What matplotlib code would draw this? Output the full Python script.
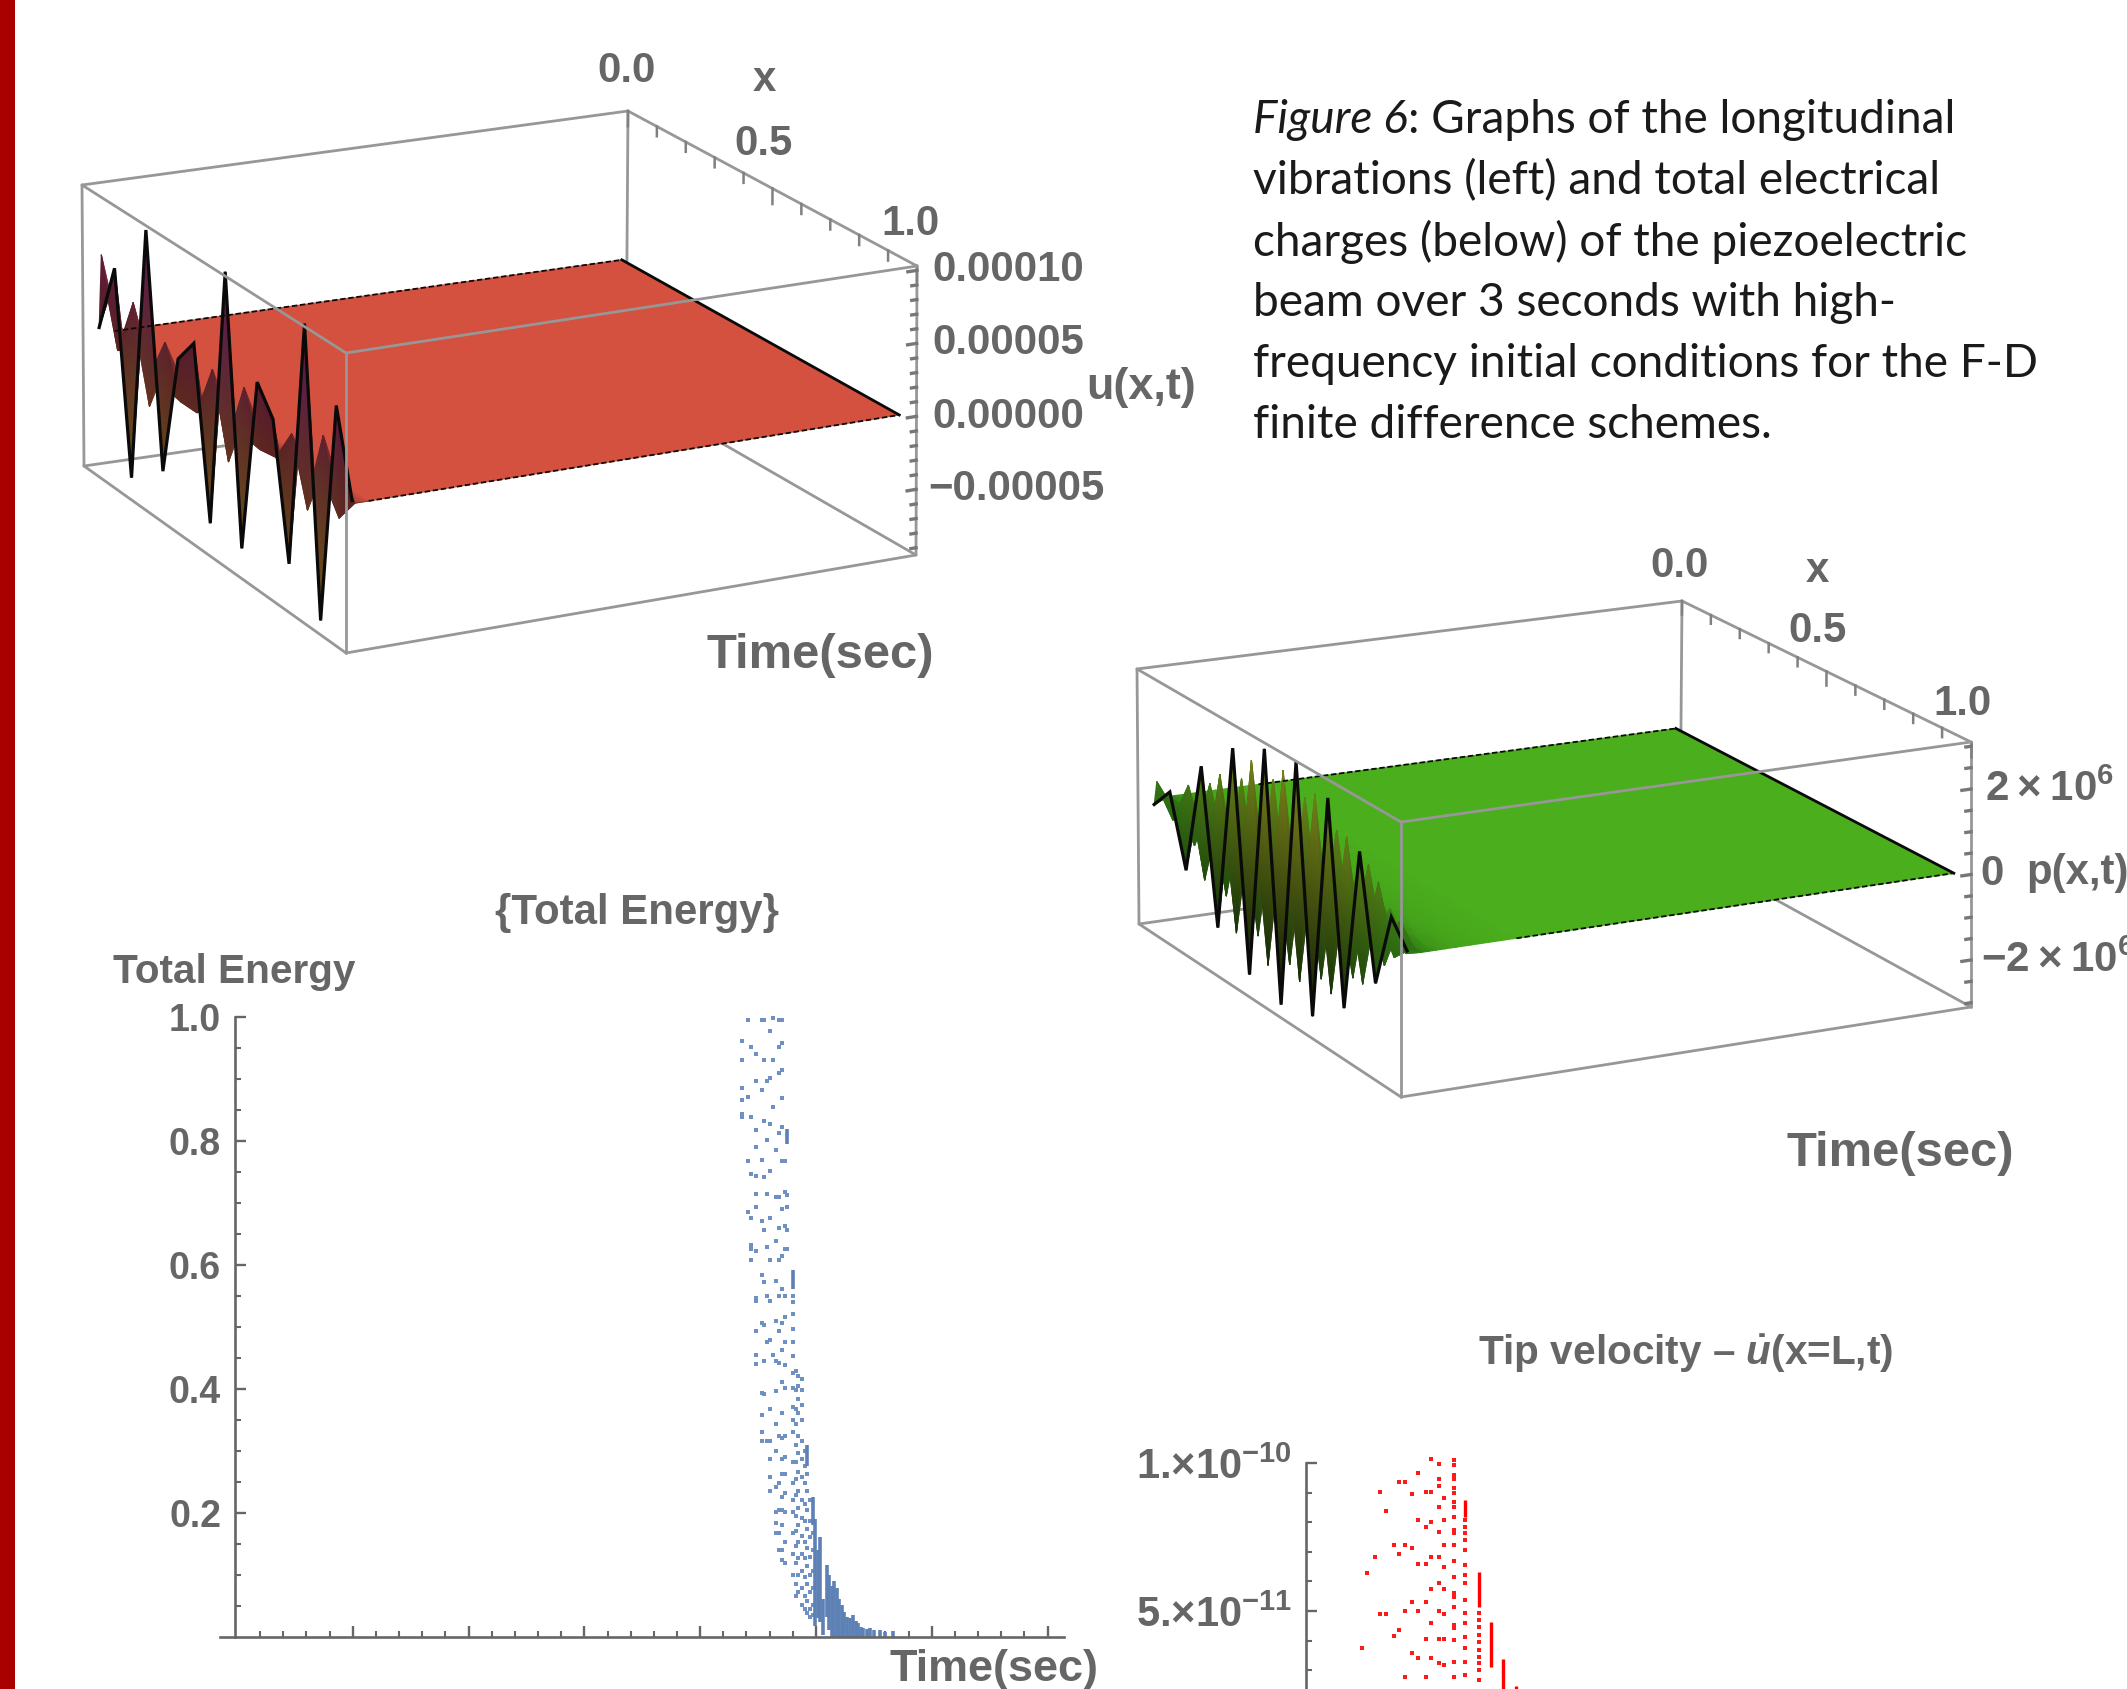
import numpy as np
import matplotlib as mpl
mpl.use('Agg')
import matplotlib.pyplot as plt
from matplotlib.artist import Artist
from matplotlib.patches import Rectangle

W, H = 2127, 1689

# u(x,t) panel, rows of the mesh in units of 1e-5
u_times = [0.0, 0.015, 0.09, 3.0]
u_row0 = [0.4, 5.3, -8.6, 9.4, -6.6, 1.9, 3.7, -7.9, 10.0, -8.1, 3.9, 2.1, -6.9, 9.9, -9.2, 5.8, 0.2]
u_row1 = [5.5, -0.5, 3.6, -2.9, 2.3, -1.1, -1.1, 2.6, -3.0, 2.8, -0.7, -0.5, 1.8, -2.6, 3.1, -1.7, 0.0]

# p(x,t) panel, rows of the mesh in units of 1e6
p_times = [0.0, 0.016, 0.049, 0.081, 0.12, 0.16, 0.21, 0.27, 0.35, 0.45, 0.6, 3.0]
p_row0 = [-0.15, 0.39, -1.26, 1.47, -2.15, 2.35, -2.78, 2.77, -3.0, 2.91, -2.79, 2.49, -2.13, 1.69, -1.1, 0.63, 0.08]
p_row1 = [0.4, -0.3, 0.78, -1.27, 1.5, -2.05, 2.28, -2.33, 2.48, -2.24, 2.36, -2.05, 1.8, -1.36, 1.2, -0.3, 0.1]
p_row2 = [0.1, 0.1, -0.7, 1.03, -1.43, 1.6, -1.9, 2.02, -2.1, 2.05, -1.96, 1.72, -1.47, 1.36, -0.73, 0.5, 0.05]
p_row3 = [0, 0, 0.25, -0.4, 0.65, -0.8, 1.05, -1.2, 1.3, -1.35, 1.3, -1.2, 1.05, -0.8, 0.55, -0.25, 0]
p_row4 = [0, 0, -0.12, 0.2, -0.3, 0.42, -0.6, 0.66, -0.72, 0.78, -0.78, 0.72, -0.6, 0.48, -0.3, 0.12, 0]
p_row5 = [0, 0, 0.05, -0.1, 0.14, -0.18, 0.27, -0.36, 0.4, -0.45, 0.45, -0.4, 0.36, -0.27, 0.18, -0.09, 0]
p_row6 = [0, 0, 0, 0.04, -0.08, 0.12, -0.16, 0.2, -0.24, 0.28, -0.28, 0.28, -0.24, 0.2, -0.12, 0.04, 0]
p_row7 = [0, 0, 0, 0, 0.03, -0.06, 0.09, -0.12, 0.12, -0.15, 0.15, -0.15, 0.12, -0.09, 0.03, 0, 0]
p_row8 = [0, 0, 0, 0, 0, 0.02, -0.03, 0.05, -0.05, 0.07, -0.07, 0.07, -0.05, 0.05, -0.02, 0, 0]
p_row9 = [0, 0, 0, 0, 0, 0, 0, -0.02, 0.02, -0.02, 0.02, -0.02, 0.02, -0.02, 0, 0, 0]

# total energy, one list of values per time column
energy_t = [2.180, 2.205, 2.218, 2.241, 2.267, 2.277, 2.290, 2.303, 2.316, 2.327, 2.339, 2.352, 2.366,
            2.376, 2.399, 2.414, 2.424, 2.438, 2.451, 2.463, 2.474, 2.486]
energy_vals = [
    [.962, .931, .886, .866, .844, .839],
    [.995, .871, .768, .686],
    [.952, .838, .747, .676, .632, .625, .607],
    [.941, .897, .817, .790, .743, .715, .693, .622, .546, .542, .493, .455, .440],
    [.995, .882, .769, .671, .584, .506, .393, .357, .330, .315],
    [.995, .931, .832, .742, .656, .573, .503, .445, .391],
    [.897, .802, .715, .628, .550, .476, .315],
    [.978, .901, .827, .752, .676, .607, .542, .479, .367, .316, .286, .258, .235],
    [.998, .931, .854, .455],
    [.785, .710, .639, .574, .510, .445, .396, .343, .299, .241, .201, .184, .167],
    [.995, .951, .910, .812, .710, .659, .608, .550, .493, .442, .323, .248, .204, .167, .140],
    [.995, .958, .914, .869, .822, .768, .690, .615, .561, .506, .462, .411, .360, .320, .286, .262, .225,
     .204, .180, .140, .123],
    [.768, .717, .662, .625, .550, .516, .476, .438, .401, .323, .289, .262, .231, .201, .153, .119],
    [.713, .693, .656, .625],
    [.550, .540, .520, .496, .476, .452, .425, .401, .370, .350, .330, .282, .248, .221, .201, .167, .133, .099],
    [.428, .398, .367, .343, .309, .282, .255, .228, .194, .170, .146, .119, .085, .065],
    [.421, .404, .384, .360, .323, .296, .265, .235, .208, .180, .153, .126, .099, .072],
    [.415, .398, .374, .350, .316, .286, .258, .221, .191, .163, .133, .106, .079, .051],
    [.299, .275, .248, .214, .187, .153, .126, .096, .065, .045],
    [.262, .235, .204, .174, .143, .113, .085, .058, .038],
    [.221, .187, .160, .129, .099, .072, .045, .031],
    [.167, .140, .106, .079, .051, .034],
]
# columns where the points merge into a solid stroke
energy_bar_t = [2.376, 2.399, 2.463, 2.486, 2.496, 2.507, 2.517, 2.530, 2.546, 2.557, 2.568, 2.578, 2.589,
                2.600, 2.611, 2.622, 2.632, 2.645, 2.661, 2.672, 2.683, 2.695, 2.704, 2.720, 2.733, 2.750,
                2.776, 2.800, 2.834]
energy_bar_lo = [.795, .561, .275, .180, .017, .030, .024, .002, .031, .010, 0, 0, 0,
                 0, 0, 0, 0, 0, 0, 0, 0, 0, 0, 0, 0, 0,
                 0, 0, 0]
energy_bar_hi = [.819, .591, .309, .225, .190, .140, .160, .060, .116, .100, .082, .090, .079,
                 .060, .051, .040, .031, .030, .034, .025, .021, .015, .014, .012, .014, .010,
                 .011, .008, .009]

# tip velocity, in units of 1e-11
tip_t = [.242, .265, .299, .321, .344, .381, .401, .426, .457, .483, .517, .539, .576, .596, .638, .686, .746]
tip_vals = [
    [3.74],
    [6.27],
    [6.81],
    [9.03, 4.89],
    [8.39, 4.89],
    [7.23, 4.15],
    [9.35, 6.91, 4.36],
    [9.35, 7.23, 4.99, 2.76],
    [8.95, 7.12, 5.31, 3.57],
    [9.67, 8.07, 6.58, 4.99, 3.40],
    [9.03, 7.83, 6.58, 5.31, 4.04, 2.76],
    [10.12, 9.03, 8.02, 6.81, 5.73, 4.58, 3.40],
    [9.97, 9.45, 9.23, 8.52, 7.68, 6.81, 5.93, 4.99, 4.04, 3.23],
    [8.81, 8.07, 7.23, 6.47, 5.73, 4.89, 4.04, 3.17],
    [10.1, 9.93, 9.6, 9.45, 9.14, 9.0, 8.69, 8.52, 8.19, 7.74, 7.62, 7.23, 6.70, 6.16, 5.6, 5.48, 5.15,
     4.53, 4.41, 4.02, 3.29, 2.76],
    [8.07, 7.85, 7.62, 7.4, 7.06, 6.55, 6.22, 5.93, 5.37, 4.92, 4.58, 4.13, 3.74, 3.29, 2.84],
    [4.92, 4.69, 4.47, 4.19, 3.96, 3.68, 3.46, 3.23, 3.0, 2.67],
]
tip_bar_t = [.686, .746, .799, .850, .907]
tip_bar_lo = [8.18, 5.15, 3.12, 2.3, 2.3]
tip_bar_hi = [8.75, 6.33, 4.64, 3.38, 2.45]

caption_lines = ['vibrations (left) and total electrical',
                 'charges (below) of the piezoelectric',
                 'beam over 3 seconds with high-',
                 'frequency initial conditions for the F-D',
                 'finite difference schemes.']

GREY = '#979797'
TEXT = '#666666'

plt.rcParams['font.family'] = ['Liberation Sans', 'DejaVu Sans']
plt.rcParams['mathtext.fontset'] = 'custom'
plt.rcParams['mathtext.rm'] = 'Liberation Sans'
plt.rcParams['mathtext.it'] = 'Liberation Sans:italic:bold'
plt.rcParams['mathtext.bf'] = 'Liberation Sans:bold'
plt.rcParams['mathtext.default'] = 'regular'


class GouraudMesh(Artist):
    # triangles with one colour per corner, drawn in the order given
    def __init__(self, tris, cols):
        super().__init__()
        self.tris = np.array(tris, dtype=float)
        self.cols = np.array(cols, dtype=float)

    def draw(self, renderer):
        gc = renderer.new_gc()
        renderer.draw_gouraud_triangles(gc, self.tris, self.cols, self.axes.transData)
        gc.restore()


def hex_rgb(c):
    return np.array(mpl.colors.to_rgb(c))


def draw_box3d(ax, corners, zlim, times, rows, weights, flat, low, mid, high, z_major, z_minor, zscale):
    # corners: [left, front, back, right], each (x, y bottom, y top) in pixels
    box = np.zeros((2, 2, 2, 2))
    for i, (a, b) in enumerate([(0, 0), (0, 1), (1, 0), (1, 1)]):
        x_bot, y_bot, x_top, y_top = corners[i]
        box[a, b, 0] = [x_bot, y_bot]
        box[a, b, 1] = [x_top, y_top]

    def corner(a, b, c):
        w = 0
        for i in (0, 1):
            for j in (0, 1):
                for k in (0, 1):
                    w = w + (a if i else 1 - a) * (b if j else 1 - b) * (c if k else 1 - c) * box[i, j, k]
        return w

    def proj(t, x, z):
        a = 0.02 + 0.96 * t / 3.0
        b = 0.02 + 0.96 * x
        c = (z - zlim[0]) / (zlim[1] - zlim[0])
        return corner(a, b, c)

    def edge(p, q, z):
        a, b = zip(p, q)
        ax.plot(a, b, color=GREY, lw=2.0, solid_capstyle='round', zorder=z)

    # edges behind the surface
    edge(corner(0, 0, 1), corner(1, 0, 1), 1)
    edge(corner(1, 0, 1), corner(1, 1, 1), 1)
    edge(corner(0, 0, 0), corner(0, 0, 1), 1)
    edge(corner(1, 0, 0), corner(1, 0, 1), 1)
    edge(corner(0, 0, 0), corner(1, 0, 0), 1)
    edge(corner(1, 0, 0), corner(1, 1, 0), 1)
    edge(corner(1, 1, 0), corner(1, 1, 1), 1)

    # x ticks hang from the back top edge
    for i in range(11):
        tip = corner(1, i / 10, 1)
        end = corner(1, i / 10, 0.945 if i % 5 == 0 else 0.965)
        ax.plot([tip[0], end[0]], [tip[1], end[1]], color='#808080', lw=1.8, zorder=1)

    # z ticks on the right vertical edge
    for z in z_minor:
        c = (z - zlim[0]) / (zlim[1] - zlim[0])
        size = 0.016 if z in z_major else 0.009
        p = corner(1, 1, c)
        q = corner(1 - size, 1, c)
        ax.plot([p[0], q[0]], [p[1], q[1]], color='#777777', lw=2.4, zorder=1)

    xs = np.linspace(0, 1, len(rows[0]))
    umax = max(abs(np.array(rows[0])))
    flat_c, low_c, mid_c, high_c = hex_rgb(flat), hex_rgb(low), hex_rgb(mid), hex_rgb(high)
    verts, cols = [], []
    for r in range(len(rows)):
        row_v, row_c = [], []
        for i in range(len(xs)):
            u = rows[r][i]
            row_v.append(proj(times[r], xs[i], u * zscale))
            n = u / umax
            c = mid_c + (high_c - mid_c) * n if n > 0 else mid_c + (low_c - mid_c) * (-n)
            c = flat_c + (c - flat_c) * weights[r]
            row_c.append(list(c) + [1.0])
        verts.append(row_v)
        cols.append(row_c)

    # far rows first so the t=0 edge ends up on top, each cell split at its
    # centre so that peaks and troughs both stay sharp
    tris, tcols = [], []
    for r in range(len(rows) - 2, -1, -1):
        for i in range(len(xs) - 1):
            a, b = verts[r][i], verts[r][i + 1]
            c, d = verts[r + 1][i], verts[r + 1][i + 1]
            ca, cb = np.array(cols[r][i]), np.array(cols[r][i + 1])
            cc, cd = np.array(cols[r + 1][i]), np.array(cols[r + 1][i + 1])
            m = (a + b + c + d) / 4
            cm = (ca + cb + cc + cd) / 4
            tris.extend([[c, d, m], [a, c, m], [b, d, m], [a, b, m]])
            tcols.extend([[cc, cd, cm], [ca, cc, cm], [cb, cd, cm], [ca, cb, cm]])
    mesh = GouraudMesh(tris, tcols)
    mesh.set_zorder(2)
    ax.add_artist(mesh)

    # black boundary of the surface
    r0 = np.array(verts[0])
    ax.plot(r0[:, 0], r0[:, 1], color='#0a0a0a', lw=2.3, zorder=3, solid_joinstyle='miter')
    last = np.array(verts[-1])
    ax.plot(last[:, 0], last[:, 1], color='#0a0a0a', lw=2.0, zorder=3)
    for j in (0, -1):
        side = np.array([verts[r][j] for r in range(len(rows))])[-2:]
        ax.plot(side[:, 0], side[:, 1], color='#0a0a0a', lw=1.3, ls=(0, (3, 1.5)), zorder=3)

    # edges in front of the surface
    edge(corner(0, 0, 1), corner(0, 1, 1), 4)
    edge(corner(0, 1, 1), corner(1, 1, 1), 4)
    edge(corner(0, 1, 0), corner(0, 1, 1), 4)
    edge(corner(0, 0, 0), corner(0, 1, 0), 4)
    edge(corner(0, 1, 0), corner(1, 1, 0), 4)


def px_text(ax, x, y, s, size, ha='center', weight='bold', color=TEXT, **kw):
    return ax.text(x, y + 3, s, fontsize=size * 0.72, ha=ha, va='center', fontweight=weight, color=color,
                   zorder=6, **kw)


fig = plt.figure(figsize=(W / 100, H / 100), dpi=100, facecolor='white')

ov = fig.add_axes([0, 0, 1, 1])
ov.set_xlim(0, W)
ov.set_ylim(H, 0)
ov.axis('off')

ov.add_patch(Rectangle((0, 0), 15, H, color='#a90000', lw=0))

# longitudinal vibrations
u_zlim = [-9.5e-5, 10.3e-5]
u_major = [-5e-5, 0, 5e-5, 10e-5]
u_minor = [k * 1e-5 for k in range(-9, 11)]
u_minor = [round(k, 10) for k in u_minor]
u_major = [round(k, 10) for k in u_major]
draw_box3d(ov,
           [(84, 466, 82, 185), (346, 653, 346, 353), (626, 388, 628, 111), (916, 555, 917, 266)],
           u_zlim, u_times, [u_row0, u_row1, [0] * 17, [0] * 17], [1, 0.95, 0, 0],
           '#d4503f', '#6b6010', '#56201f', '#5a1456', u_major, u_minor, 1e-5)
px_text(ov, 627, 68, '0.0', 42)
px_text(ov, 764, 77, 'x', 42)
px_text(ov, 764, 141, '0.5', 42)
px_text(ov, 910, 221, '1.0', 42)
px_text(ov, 932, 267, '0.00010', 42, ha='left')
px_text(ov, 932, 340, '0.00005', 42, ha='left')
px_text(ov, 932, 414, '0.00000', 42, ha='left')
px_text(ov, 928, 486, '\u22120.00005', 42, ha='left')
px_text(ov, 1141, 384, 'u(x,t)', 45)
px_text(ov, 820, 652, 'Time(sec)', 49)

# electrical charges
p_zlim = [-3.1e6, 3.1e6]
p_major = [-2e6, 0, 2e6]
p_minor = [k * 0.5e6 for k in range(-6, 7)]
p_rows = [p_row0, p_row1, p_row2, p_row3, p_row4, p_row5, p_row6, p_row7, p_row8, p_row9, [0] * 17, [0] * 17]
draw_box3d(ov,
           [(1139, 924, 1137, 669), (1401, 1097, 1401, 822), (1680, 847, 1682, 601), (1971, 1007, 1971, 742)],
           p_zlim, p_times, p_rows, [1, 1, 0.95, 0.75, 0.55, 0.4, 0.28, 0.18, 0.12, 0.06, 0, 0],
           '#4bae1d', '#061003', '#2a7212', '#8f8c1c', p_major, p_minor, 1e6)
px_text(ov, 1680, 563, '0.0', 42)
px_text(ov, 1817, 568, 'x', 42)
px_text(ov, 1817, 628, '0.5', 42)
px_text(ov, 1962, 701, '1.0', 42)
px_text(ov, 1985, 787, '2\u2009\u00d7\u200910$^{6}$', 42, ha='left')
px_text(ov, 1992, 871, '0', 42)
px_text(ov, 2026, 870, 'p(x,t)', 42, ha='left')
px_text(ov, 1981, 958, '\u22122\u2009\u00d7\u200910$^{6}$', 42, ha='left')
px_text(ov, 1900, 1150, 'Time(sec)', 49)

# caption
head = px_text(ov, 1253, 117, 'Figure 6', 46, ha='left', weight='normal', color='#1a1a1a', family='Lato', style='italic')
ov.annotate(': Graphs of the longitudinal', xy=(1, 0.5), xycoords=head, va='center', ha='left',
            fontsize=46 * 0.72, color='#1a1a1a', family='Lato', zorder=6)
for i, line in enumerate(caption_lines):
    px_text(ov, 1253, 178 + 61 * i, line, 46, ha='left', weight='normal', color='#1a1a1a', family='Lato')

# total energy
ax = fig.add_axes([220 / W, 1 - 1636.5 / H, (1064 - 220) / W, (1636.5 - 1017) / H])
ax.patch.set_alpha(0)
ax.set_xlim(-0.0734, 3.571)
ax.set_ylim(0, 1)
for t, vals in zip(energy_t, energy_vals):
    ax.plot([t] * len(vals), vals, ls='', marker='s', ms=2.3, mew=0, color='#6f90c2', clip_on=False)
ax.vlines(energy_bar_t, energy_bar_lo, energy_bar_hi, color='#5e81b5', lw=2.6)
for s in ('top', 'right'):
    ax.spines[s].set_visible(False)
ax.spines['left'].set_position(('data', -0.009))
ax.spines['left'].set_color(TEXT)
ax.spines['left'].set_linewidth(1.9)
ax.spines['bottom'].set_color(TEXT)
ax.spines['bottom'].set_linewidth(1.9)
ax.set_xticks([k * 0.5 for k in range(1, 8)])
ax.set_xticks([k * 0.1 for k in range(1, 36)], minor=True)
ax.set_xticklabels([])
ax.set_yticks([0.2, 0.4, 0.6, 0.8, 1.0])
ax.set_yticks([k * 0.05 for k in range(1, 20)], minor=True)
ax.set_yticklabels(['0.2', '0.4', '0.6', '0.8', '1.0'])
ax.tick_params(which='major', direction='in', length=8, width=1.7, color=TEXT, pad=10, labelcolor=TEXT, labelsize=27)
ax.tick_params(which='minor', direction='in', length=4.5, width=1.5, color=TEXT)
for lab in ax.get_yticklabels():
    lab.set_fontweight('bold')
px_text(ov, 637, 910, '{Total Energy}', 42)
px_text(ov, 234, 969, 'Total Energy', 40.5)
px_text(ov, 994, 1667, 'Time(sec)', 45)

# tip velocity, the lower part runs off the page
ax2 = fig.add_axes([1306 / W, 1 - 1759 / H, (W - 1306) / W, (1759 - 1463) / H])
ax2.patch.set_alpha(0)
ax2.set_xlim(0, (W - 1306) / 231.6)
ax2.set_ylim(0, 1e-10)
for t, vals in zip(tip_t, tip_vals):
    ax2.plot([t] * len(vals), np.array(vals) * 1e-11, ls='', marker='s', ms=2.3, mew=0, color='#ff1a1a', clip_on=False)
ax2.vlines(tip_bar_t, np.array(tip_bar_lo) * 1e-11, np.array(tip_bar_hi) * 1e-11, color='#ff0000', lw=2.4)
for s in ('top', 'right', 'bottom'):
    ax2.spines[s].set_visible(False)
ax2.spines['left'].set_color(TEXT)
ax2.spines['left'].set_linewidth(1.9)
ax2.set_xticks([])
ax2.set_yticks([5e-11, 1e-10])
ax2.set_yticks([k * 1e-11 for k in range(1, 10)], minor=True)
ax2.set_yticklabels(['5.\u00d710$^{-11}$', '1.\u00d710$^{-10}$'])
ax2.tick_params(which='major', direction='in', length=8, width=1.7, color=TEXT, pad=10, labelcolor=TEXT, labelsize=30)
ax2.tick_params(which='minor', direction='in', length=4.5, width=1.5, color=TEXT)
for lab in ax2.get_yticklabels():
    lab.set_fontweight('bold')
px_text(ov, 1686, 1351, 'Tip velocity \u2013 $\\dot{\\mathit{u}}$(x=L,t)', 40.5)

fig.savefig('out.png', dpi=100)
